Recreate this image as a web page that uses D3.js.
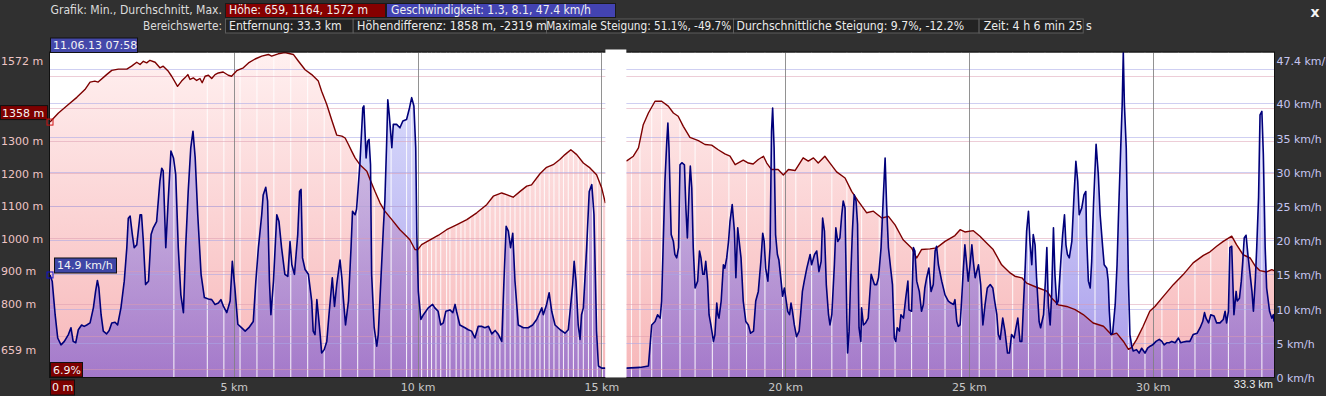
<!DOCTYPE html>
<html>
<head>
<meta charset="utf-8">
<script src="https://cdn.jsdelivr.net/npm/d3@7"></script>
<style>
  body { margin: 0; background: #303030; overflow: hidden; }
  svg { display: block; font-family: "DejaVu Sans", sans-serif; }
</style>
</head>
<body>
<script>
// ---- data ----
const distTicks = [5, 10, 15, 20, 25, 30];
const distEnd = 33.3;
const elevLabels = [1572, 1300, 1200, 1100, 1000, 900, 800, 659];
const elevGrid = [1500, 1400, 1300, 1200, 1100, 1000, 900, 800, 700, 600];
const speedLabels = [47.4, 40, 35, 30, 25, 20, 15, 10, 5, 0];
const speedGrid = [45, 40, 35, 30, 25, 20, 15, 10, 5];

const graphStats = ["Höhe: 659, 1164, 1572 m", "Geschwindigkeit: 1.3, 8.1, 47.4 km/h"];
const rangeStats = ["Entfernung: 33.3 km", "Höhendifferenz: 1858 m, -2319 m",
  "Maximale Steigung: 51.1%, -49.7%", "Durchschnittliche Steigung: 9.7%, -12.2%", "Zeit: 4 h 6 min 25 s"];
const cursorInfo = ["11.06.13 07:58", "6.9%", "0 m"];

// pause in the track (km)
const pauseKm = [15.11, 15.68];

// [km, m]
const elevation = [
  [0,1358],[0.23,1386],[0.50,1412],[0.73,1434],[0.95,1458],[1.09,1481],[1.22,1484],[1.31,1481],[1.54,1504],
  [1.68,1517],[1.86,1521],[2.09,1521],[2.22,1530],[2.36,1542],[2.45,1535],[2.54,1545],[2.63,1540],[2.72,1548],
  [2.86,1542],[2.99,1525],[3.08,1530],[3.22,1514],[3.31,1499],[3.47,1468],[3.58,1484],[3.67,1494],[3.75,1504],
  [3.81,1489],[3.90,1494],[3.99,1486],[4.08,1492],[4.14,1479],[4.22,1499],[4.31,1502],[4.40,1492],[4.49,1504],
  [4.58,1509],[4.71,1512],[4.85,1502],[4.94,1499],[5.08,1516],[5.26,1525],[5.40,1540],[5.58,1552],[5.76,1561],
  [5.94,1566],[6.03,1561],[6.21,1568],[6.39,1572],[6.62,1566],[6.76,1545],[6.94,1519],[7.12,1504],[7.30,1484],
  [7.39,1453],[7.53,1412],[7.66,1366],[7.80,1318],[7.94,1315],[8.03,1309],[8.12,1289],[8.21,1268],[8.30,1248],
  [8.43,1227],[8.62,1207],[8.71,1181],[8.84,1145],[8.98,1109],[9.11,1084],[9.30,1058],[9.52,1027],[9.70,1007],
  [9.79,996],[9.93,966],[10.0,965],[10.11,981],[10.34,996],[10.57,1010],[10.79,1027],[11.06,1042],[11.34,1058],
  [11.61,1079],[11.88,1104],[12.06,1130],[12.29,1140],[12.42,1135],[12.60,1127],[12.79,1145],[12.97,1161],
  [13.10,1165],[13.33,1199],[13.51,1219],[13.69,1227],[13.87,1243],[14.01,1258],[14.17,1273],[14.33,1258],
  [14.51,1232],[14.69,1217],[14.87,1196],[15.01,1155],[15.11,1109],[15.4,null],
  [15.68,1238],[15.87,1253],[16.01,1279],[16.14,1350],[16.28,1386],[16.46,1422],[16.64,1422],[16.82,1407],
  [16.96,1386],[17.09,1376],[17.23,1345],[17.41,1311],[17.64,1301],[17.82,1289],[18.00,1287],[18.18,1273],
  [18.36,1260],[18.50,1253],[18.64,1227],[18.86,1241],[19.00,1232],[19.13,1229],[19.27,1243],[19.41,1253],
  [19.50,1232],[19.63,1212],[19.81,1212],[19.95,1195],[20.09,1212],[20.27,1209],[20.49,1248],[20.63,1238],
  [20.77,1248],[20.90,1232],[21.08,1253],[21.22,1232],[21.40,1205],[21.63,1186],[21.81,1145],[21.99,1115],
  [22.22,1079],[22.40,1084],[22.63,1063],[22.81,1068],[22.99,1042],[23.21,996],[23.44,971],[23.58,940],
  [23.71,966],[23.94,968],[24.12,971],[24.35,991],[24.62,1009],[24.76,1027],[24.89,1020],[25.12,1024],
  [25.30,1007],[25.44,991],[25.66,966],[25.89,919],[26.12,894],[26.25,884],[26.44,879],[26.57,863],[26.84,850],
  [27.12,838],[27.25,817],[27.43,796],[27.66,791],[27.89,781],[28.11,766],[28.38,740],[28.66,730],[28.88,704],
  [29.02,709],[29.20,684],[29.34,659],[29.43,665],[29.56,689],[29.74,730],[29.92,776],[30.06,791],[30.29,822],
  [30.56,858],[30.83,889],[31.10,925],[31.38,948],[31.56,959],[31.74,976],[31.92,991],[32.15,1007],[32.28,981],
  [32.46,950],[32.65,940],[32.79,915],[32.92,901],[33.10,897],[33.24,904],[33.30,901]
];

// [km, km/h]
const speed = [
  [0,14.9],[0.06,14.0],[0.14,9.1],[0.21,5.7],[0.30,4.7],[0.39,5.2],[0.50,6.2],[0.57,7.2],[0.63,5.2],[0.70,5.0],
  [0.77,6.9],[0.86,7.6],[0.93,7.4],[1.00,7.6],[1.09,7.9],[1.18,10.1],[1.24,12.5],[1.29,14.1],[1.33,13.0],[1.39,9.1],
  [1.45,6.7],[1.54,6.3],[1.61,6.8],[1.68,7.9],[1.77,8.0],[1.84,7.6],[1.93,10.1],[2.02,14.0],[2.09,18.9],[2.13,23.2],
  [2.18,23.5],[2.24,20.8],[2.29,18.9],[2.36,19.3],[2.45,23.7],[2.49,23.7],[2.54,19.8],[2.60,13.5],[2.68,14.0],
  [2.75,20.8],[2.81,21.8],[2.90,22.7],[2.99,28.6],[3.04,30.5],[3.08,30.1],[3.15,18.9],[3.22,26.2],[3.29,33.0],
  [3.36,32.0],[3.42,29.6],[3.49,18.9],[3.56,12.0],[3.63,9.4],[3.69,18.9],[3.76,27.1],[3.83,33.5],[3.89,35.9],
  [3.95,32.0],[4.02,23.7],[4.11,15.0],[4.20,11.6],[4.31,11.4],[4.40,11.3],[4.49,10.6],[4.58,10.8],[4.65,11.3],
  [4.72,10.3],[4.81,9.4],[4.90,11.1],[4.96,16.9],[5.03,13.0],[5.11,7.7],[5.21,7.2],[5.31,6.7],[5.41,7.2],[5.53,8.1],
  [5.60,14.0],[5.67,18.9],[5.76,23.7],[5.80,26.6],[5.87,27.7],[5.92,25.7],[5.97,14.0],[6.01,9.1],[6.08,14.0],
  [6.17,23.7],[6.23,22.7],[6.30,18.9],[6.39,15.0],[6.47,14.7],[6.53,19.8],[6.58,16.4],[6.65,15.0],[6.74,20.8],
  [6.79,27.1],[6.83,27.4],[6.87,17.4],[6.94,15.7],[7.03,15.0],[7.12,11.1],[7.16,6.7],[7.21,6.2],[7.26,11.3],
  [7.30,9.1],[7.35,6.2],[7.39,3.5],[7.46,4.0],[7.53,5.2],[7.59,9.1],[7.68,14.5],[7.74,10.3],[7.80,13.5],[7.89,17.1],
  [7.94,14.5],[7.98,11.5],[8.04,7.6],[8.12,11.1],[8.19,18.9],[8.23,24.2],[8.30,23.7],[8.34,24.5],[8.43,31.0],
  [8.51,39.3],[8.54,39.6],[8.60,32.0],[8.64,34.4],[8.68,34.7],[8.72,31.0],[8.75,15.0],[8.82,7.2],[8.89,4.5],
  [8.93,6.2],[9.00,14.0],[9.07,21.8],[9.11,25.7],[9.16,34.4],[9.19,40.5],[9.23,38.3],[9.30,33.5],[9.34,36.9],
  [9.43,36.9],[9.52,36.4],[9.60,37.4],[9.70,37.6],[9.78,39.3],[9.84,40.8],[9.90,39.6],[9.95,33.5],[9.98,20.8],
  [10.02,12.5],[10.09,8.4],[10.16,9.1],[10.29,10.1],[10.41,10.6],[10.47,10.1],[10.56,9.6],[10.63,7.6],[10.70,7.9],
  [10.77,9.6],[10.88,9.8],[10.96,9.4],[11.02,10.6],[11.06,9.6],[11.15,7.6],[11.29,7.2],[11.38,6.9],[11.47,6.7],
  [11.56,5.7],[11.65,7.4],[11.74,7.4],[11.83,7.2],[11.93,7.4],[12.02,6.3],[12.11,6.8],[12.20,6.2],[12.29,5.2],
  [12.35,14.0],[12.41,22.0],[12.47,21.3],[12.53,18.9],[12.59,21.0],[12.65,14.0],[12.74,7.6],[12.88,7.2],[13.01,7.2],
  [13.13,7.6],[13.24,8.4],[13.38,10.1],[13.42,9.1],[13.51,10.6],[13.58,12.3],[13.65,9.6],[13.74,7.6],[13.88,6.9],
  [14.01,6.4],[14.10,6.9],[14.22,13.5],[14.26,16.9],[14.31,14.0],[14.37,7.6],[14.42,5.5],[14.46,9.1],[14.51,10.1],
  [14.60,18.9],[14.67,27.1],[14.74,28.1],[14.80,23.7],[14.87,6.7],[14.92,1.6],[15.01,1.3],[15.11,1.3],[15.4,null],
  [15.68,1.3],[16.05,1.4],[16.28,1.6],[16.37,7.6],[16.46,8.1],[16.53,9.1],[16.60,8.6],[16.64,11.1],[16.69,20.8],
  [16.73,28.6],[16.78,34.4],[16.81,37.1],[16.84,33.5],[16.90,20.8],[16.96,19.8],[17.00,17.9],[17.05,17.4],
  [17.10,18.9],[17.14,31.0],[17.19,31.3],[17.26,31.0],[17.30,24.7],[17.34,20.3],[17.39,27.6],[17.42,30.8],
  [17.46,27.6],[17.50,18.9],[17.55,13.0],[17.62,14.0],[17.67,18.4],[17.71,17.4],[17.76,15.0],[17.80,15.0],
  [17.84,16.9],[17.89,14.0],[17.93,9.1],[17.98,7.6],[18.05,5.2],[18.09,6.2],[18.14,10.8],[18.17,9.1],[18.20,8.6],
  [18.26,11.1],[18.32,16.4],[18.36,15.9],[18.41,17.4],[18.46,19.8],[18.50,22.7],[18.56,25.2],[18.62,21.3],
  [18.66,14.5],[18.71,21.8],[18.75,19.8],[18.80,17.4],[18.86,11.1],[18.93,8.1],[19.00,7.6],[19.06,6.4],[19.14,6.7],
  [19.20,11.1],[19.27,12.5],[19.34,16.9],[19.39,21.0],[19.43,19.8],[19.47,15.9],[19.53,14.0],[19.59,18.9],
  [19.63,35.9],[19.66,39.3],[19.70,33.5],[19.74,20.8],[19.79,17.9],[19.83,17.1],[19.89,14.0],[19.93,11.8],
  [19.98,13.0],[20.03,11.1],[20.07,9.6],[20.12,9.1],[20.16,10.8],[20.20,9.6],[20.25,7.6],[20.31,5.9],[20.38,6.7],
  [20.42,9.1],[20.47,12.5],[20.52,14.0],[20.59,15.9],[20.68,17.9],[20.72,16.4],[20.80,17.9],[20.86,18.4],
  [20.92,15.4],[20.98,16.9],[21.02,23.2],[21.07,21.3],[21.12,13.5],[21.18,9.1],[21.22,7.6],[21.27,9.1],[21.34,16.4],
  [21.38,21.8],[21.43,19.8],[21.49,20.3],[21.54,23.7],[21.58,25.7],[21.63,24.7],[21.68,8.1],[21.70,3.5],[21.74,6.7],
  [21.78,14.0],[21.83,21.3],[21.88,26.6],[21.93,25.7],[21.97,22.3],[22.01,7.2],[22.06,5.2],[22.08,10.1],[22.13,7.6],
  [22.19,7.9],[22.26,8.6],[22.34,15.0],[22.43,13.5],[22.49,13.5],[22.54,14.5],[22.61,18.9],[22.67,26.2],[22.72,32.0],
  [22.76,25.2],[22.81,18.9],[22.87,15.9],[22.92,13.5],[22.97,5.7],[23.01,5.2],[23.05,7.2],[23.11,6.7],[23.15,9.1],
  [23.22,8.6],[23.28,11.5],[23.34,14.0],[23.37,9.8],[23.44,9.6],[23.49,18.9],[23.53,18.4],[23.58,14.0],[23.65,12.5],
  [23.71,9.6],[23.76,10.6],[23.80,13.0],[23.85,14.5],[23.91,15.9],[23.97,12.5],[24.03,13.5],[24.08,18.4],
  [24.12,19.1],[24.17,16.4],[24.26,14.0],[24.35,12.0],[24.44,11.1],[24.51,10.8],[24.58,10.6],[24.62,11.3],
  [24.67,8.1],[24.71,7.4],[24.76,7.6],[24.80,11.1],[24.85,15.9],[24.89,19.3],[24.94,16.4],[24.98,14.0],[25.03,16.4],
  [25.08,19.3],[25.12,16.9],[25.17,14.5],[25.26,16.4],[25.32,13.5],[25.38,7.6],[25.44,10.6],[25.50,13.0],
  [25.58,13.5],[25.65,13.0],[25.70,11.1],[25.76,9.1],[25.80,6.2],[25.85,5.5],[25.92,8.6],[25.98,6.7],[26.05,3.5],
  [26.10,3.5],[26.16,6.2],[26.23,5.7],[26.28,7.2],[26.33,8.6],[26.39,5.2],[26.44,5.2],[26.48,10.1],[26.53,15.9],
  [26.57,21.3],[26.62,24.2],[26.66,19.8],[26.71,16.4],[26.75,20.8],[26.80,19.3],[26.84,14.5],[26.91,8.1],
  [26.95,7.2],[27.03,9.1],[27.08,14.0],[27.12,18.9],[27.16,10.6],[27.21,7.6],[27.25,12.0],[27.30,21.8],[27.34,15.0],
  [27.39,10.6],[27.43,11.1],[27.50,16.9],[27.55,20.8],[27.60,23.7],[27.64,19.3],[27.68,17.9],[27.73,17.4],
  [27.80,19.8],[27.86,26.6],[27.91,31.5],[27.96,28.6],[28.00,23.7],[28.07,24.7],[28.13,26.6],[28.18,27.1],
  [28.20,20.8],[28.25,14.0],[28.30,13.0],[28.34,16.9],[28.39,25.2],[28.46,34.0],[28.52,29.6],[28.57,23.7],
  [28.64,18.9],[28.68,16.4],[28.75,15.9],[28.79,14.0],[28.82,9.6],[28.86,6.2],[28.91,6.4],[28.98,10.6],[29.03,16.4],
  [29.07,23.7],[29.13,33.5],[29.17,39.8],[29.20,47.4],[29.23,39.8],[29.28,33.5],[29.31,23.7],[29.34,14.0],
  [29.38,6.2],[29.43,4.5],[29.47,3.8],[29.56,4.0],[29.63,3.5],[29.70,4.2],[29.79,3.5],[29.86,4.2],[29.93,4.5],
  [30.00,4.7],[30.09,5.2],[30.18,5.5],[30.25,5.2],[30.31,4.7],[30.38,5.0],[30.45,5.0],[30.52,5.2],[30.61,5.0],
  [30.70,5.7],[30.76,5.0],[30.83,5.1],[30.92,5.2],[31.01,5.2],[31.10,6.2],[31.21,6.4],[31.29,7.2],[31.36,8.1],
  [31.41,9.4],[31.45,8.6],[31.52,7.9],[31.58,9.1],[31.67,8.9],[31.74,7.9],[31.83,7.9],[31.92,8.4],[31.97,9.6],
  [32.01,7.9],[32.06,9.6],[32.10,18.9],[32.15,19.1],[32.18,14.0],[32.21,9.1],[32.27,12.5],[32.30,11.1],[32.36,11.5],
  [32.41,14.0],[32.45,16.9],[32.49,20.3],[32.54,20.7],[32.59,17.9],[32.65,15.0],[32.70,12.5],[32.74,9.6],
  [32.79,14.0],[32.83,18.9],[32.88,26.2],[32.92,38.3],[32.97,38.8],[33.01,32.5],[33.06,18.9],[33.10,13.0],
  [33.18,9.6],[33.24,8.6],[33.28,9.1],[33.30,8.1]
];

// white sample markers along the track (km)
const markKm = [3.37, 4.28, 4.73, 5.17, 5.63, 6.09, 6.55, 7.01, 7.46, 7.91, 8.37, 8.82, 9.28, 9.70, 9.84,
  10.11, 10.27, 10.38, 10.50, 10.63, 10.79, 10.88, 11.05, 11.18, 11.29, 11.43, 11.56, 11.70, 11.83, 11.97,
  12.11, 12.24, 12.38, 12.52, 12.65, 12.79, 12.92, 13.06, 13.20, 13.33, 13.45, 13.58, 13.71, 13.85, 13.97,
  14.10, 14.24, 14.37, 14.51, 14.65, 14.76, 14.89, 15.03, 15.82, 16.05, 16.37, 16.64, 17.14, 17.55, 18.02,
  18.47, 18.95, 19.45, 19.93, 20.29, 20.72, 21.27, 21.68, 22.08, 22.56, 22.99, 23.44, 23.90, 24.35, 24.80,
  25.28, 25.74, 26.19, 26.62, 27.07, 27.53, 27.98, 28.43, 28.89, 29.34, 29.79, 30.25, 30.70, 31.15, 31.58,
  32.06, 32.51, 32.97];

// ---- layout ----
const W = 1326, H = 396;
const plot = { left: 50, right: 1274, top: 52.5, bottom: 377 };

const svg = d3.select('body').append('svg')
    .attr('width', W)
    .attr('height', H);

const x = d3.scaleLinear().domain([0, distEnd]).range([plot.left, plot.right]);
const yElev = d3.scaleLinear().domain([574, 1572]).range([plot.bottom, plot.top]);
const ySpeed = d3.scaleLinear().domain([0, 47.4]).range([plot.bottom, plot.top]);

// gradients
const defs = svg.append('defs');
function vGrad(id, stops) {
    const g = defs.append('linearGradient').attr('id', id)
        .attr('gradientUnits', 'userSpaceOnUse')
        .attr('x1', 0).attr('x2', 0).attr('y1', plot.top).attr('y2', plot.bottom);
    stops.forEach(s => g.append('stop').attr('offset', s[0]).attr('stop-color', s[1]).attr('stop-opacity', s[2]));
}
vGrad('elevFill', [[0, '#fff0f0', 1], [1, '#f7b7b9', 1]]);
vGrad('speedFill', [[0, '#8c96f5', 0.3], [1, '#6046d8', 0.55]]);

// plot background
svg.append('rect')
    .attr('x', plot.left).attr('y', plot.top)
    .attr('width', plot.right - plot.left).attr('height', plot.bottom - plot.top)
    .attr('fill', '#ffffff');

const defined = d => d[1] !== null;

// elevation area
svg.append('path')
    .datum(elevation)
    .attr('fill', 'url(#elevFill)')
    .attr('d', d3.area().defined(defined).x(d => x(d[0])).y0(plot.bottom).y1(d => yElev(d[1])));

// speed area
svg.append('path')
    .datum(speed)
    .attr('fill', 'url(#speedFill)')
    .attr('d', d3.area().defined(defined).x(d => x(d[0])).y0(plot.bottom).y1(d => ySpeed(d[1])));

// white sample markers
svg.append('g').selectAll('line')
    .data(markKm)
    .enter().append('line')
        .attr('x1', d => x(d)).attr('x2', d => x(d))
        .attr('y1', plot.top).attr('y2', plot.bottom)
        .attr('stroke', '#ffffff').attr('stroke-width', 1.1).attr('opacity', 0.85);

// horizontal grid
svg.append('g').selectAll('line')
    .data(elevGrid)
    .enter().append('line')
        .attr('x1', plot.left).attr('x2', plot.right)
        .attr('y1', d => Math.round(yElev(d)) + 0.5).attr('y2', d => Math.round(yElev(d)) + 0.5)
        .attr('stroke', '#dc9cb0').attr('opacity', 0.5);
svg.append('g').selectAll('line')
    .data(speedGrid)
    .enter().append('line')
        .attr('x1', plot.left).attr('x2', plot.right)
        .attr('y1', d => Math.round(ySpeed(d)) + 0.5).attr('y2', d => Math.round(ySpeed(d)) + 0.5)
        .attr('stroke', '#a8a8e8').attr('opacity', 0.55);

// vertical grid at km ticks
svg.append('g').selectAll('line')
    .data(distTicks)
    .enter().append('line')
        .attr('x1', d => Math.round(x(d)) + 0.5).attr('x2', d => Math.round(x(d)) + 0.5)
        .attr('y1', plot.top).attr('y2', plot.bottom)
        .attr('stroke', '#808080').attr('opacity', 0.85);

// lines
svg.append('path')
    .datum(elevation)
    .attr('fill', 'none').attr('stroke', '#7d0000').attr('stroke-width', 1.4)
    .attr('stroke-linejoin', 'round')
    .attr('d', d3.line().defined(defined).x(d => x(d[0])).y(d => yElev(d[1])));
svg.append('path')
    .datum(speed)
    .attr('fill', 'none').attr('stroke', '#00007a').attr('stroke-width', 1.6)
    .attr('stroke-linejoin', 'round')
    .attr('d', d3.line().defined(defined).x(d => x(d[0])).y(d => ySpeed(d[1])));

// plot frame
svg.append('rect')
    .attr('x', plot.left - 0.5).attr('y', plot.top - 0.5)
    .attr('width', plot.right - plot.left + 1).attr('height', plot.bottom - plot.top + 1)
    .attr('fill', 'none').attr('stroke', '#111');

// pause gap
svg.append('rect')
    .attr('x', x(pauseKm[0])).attr('y', plot.top - 3)
    .attr('width', x(pauseKm[1]) - x(pauseKm[0])).attr('height', plot.bottom - plot.top + 3.5)
    .attr('fill', '#ffffff');

// ---- axes ----
const leftAxis = svg.append('g')
    .attr('transform', `translate(${plot.left},0)`)
    .call(d3.axisLeft(yElev).tickValues(elevLabels).tickSize(0).tickFormat(d => `${d} m`));
leftAxis.select('.domain').remove();
leftAxis.selectAll('text')
    .attr('x', -plot.left + 1).attr('text-anchor', 'start')
    .attr('dy', d => d === 1572 ? '1.05em' : '0.35em')
    .attr('fill', '#eec4c4').style('font-size', '11px').style('font-family', 'DejaVu Sans');

const rightAxis = svg.append('g')
    .attr('transform', `translate(${plot.right},0)`)
    .call(d3.axisRight(ySpeed).tickValues(speedLabels).tickSize(0).tickPadding(2.5).tickFormat(d => `${d} km/h`));
rightAxis.select('.domain').remove();
rightAxis.selectAll('text')
    .attr('dy', d => d === 47.4 ? '1.05em' : '0.42em')
    .attr('fill', '#c6c6f0').style('font-size', '11px').style('font-family', 'DejaVu Sans');

const bottomAxis = svg.append('g')
    .attr('transform', `translate(0,${plot.bottom})`)
    .call(d3.axisBottom(x).tickValues(distTicks).tickSize(0).tickPadding(6).tickFormat(d => `${d} km`));
bottomAxis.select('.domain').remove();
bottomAxis.selectAll('text')
    .attr('fill', '#c8c8c8').style('font-size', '11px').style('font-family', 'DejaVu Sans');
bottomAxis.append('text')
    .attr('x', x(distEnd) - 1).attr('y', 10.5)
    .attr('text-anchor', 'end').attr('fill', '#ececec')
    .style('font-size', '11px')
    .text(`${distEnd} km`);

// ---- cursor labels ----
function tag(x0, y0, w, h, fill, text, tx) {
    svg.append('rect').attr('x', x0 + 0.5).attr('y', y0 + 0.5).attr('width', w).attr('height', h)
        .attr('fill', fill).attr('stroke', '#111');
    svg.append('text').attr('x', tx !== undefined ? tx : x0 + 3).attr('y', y0 + h / 2 + 0.5)
        .attr('dy', '0.36em').attr('fill', '#f4f4f4').style('font-size', '11px')
        .text(text);
}
const e0 = elevation[0], s0 = speed[0];
tag(0, yElev(e0[1]) - 17, 47, 14, '#7d0000', `${e0[1]} m`, 2);
tag(x(0) + 4, ySpeed(s0[1]) - 17.5, 62, 15, '#3f46a6', `${s0[1]} km/h`);
tag(plot.left, 37.5, 87, 14.5, '#4448aa', cursorInfo[0]);
tag(plot.left, 362, 32, 14.5, '#7d0000', cursorInfo[1]);
tag(plot.left, 379.5, 24, 15, '#7d0000', cursorInfo[2], plot.left + 2);

svg.append('rect')
    .attr('x', x(0) - 3).attr('y', yElev(e0[1]) - 3).attr('width', 6).attr('height', 6)
    .attr('fill', 'none').attr('stroke', '#d01010');
svg.append('rect')
    .attr('x', x(0) - 3).attr('y', ySpeed(s0[1]) - 3).attr('width', 6).attr('height', 6)
    .attr('fill', 'none').attr('stroke', '#1010d0');

// ---- header ----
const header = svg.append('g').style('font-size', '12px');
function headerText(tx, ty, w, text, color, anchor) {
    header.append('text')
        .attr('x', tx).attr('y', ty).attr('dy', '0.36em')
        .attr('textLength', w).attr('lengthAdjust', 'spacingAndGlyphs')
        .attr('text-anchor', anchor || 'start')
        .attr('fill', color).text(text);
}
function headerBox(x0, x1, y0, h, fill, stroke) {
    header.append('rect').attr('x', x0 + 0.5).attr('y', y0 + 0.5).attr('width', x1 - x0).attr('height', h)
        .attr('fill', fill).attr('stroke', stroke);
}
const row1 = 10, row2 = 25.5;
headerText(50.5, row1, 171.5, 'Grafik: Min., Durchschnitt, Max.', '#dcdcdc');
headerBox(225, 385, 3, 14, '#860000', '#1a1a1a');
headerBox(386, 615, 3, 14, '#4343b2', '#1a1a1a');
headerText(229, row1, 139, graphStats[0], '#f0f0f0');
headerText(391, row1, 200, graphStats[1], '#f0f0f0');

headerText(143, row2, 79, 'Bereichswerte:', '#dcdcdc');
const boxEdges = [[225, 352.7], [352.7, 546], [546, 733], [733, 978.6], [978.6, 1082.7]];
const textPos = [[229, 112.7], [357, 190], [546.3, 185], [736.5, 227.5], [983.7, 108]];
boxEdges.forEach(b => headerBox(b[0], b[1], 18.5, 14, '#232323', '#5c5c5c'));
rangeStats.forEach((t, i) => headerText(textPos[i][0], row2, textPos[i][1], t, '#ececec'));

// close button
svg.append('text')
    .attr('x', 1315).attr('y', 12).attr('dy', '0.36em')
    .attr('text-anchor', 'middle').attr('fill', '#f4f4f4')
    .style('font-size', '14px').style('font-weight', 'bold')
    .text('x');
</script>
</body>
</html>
